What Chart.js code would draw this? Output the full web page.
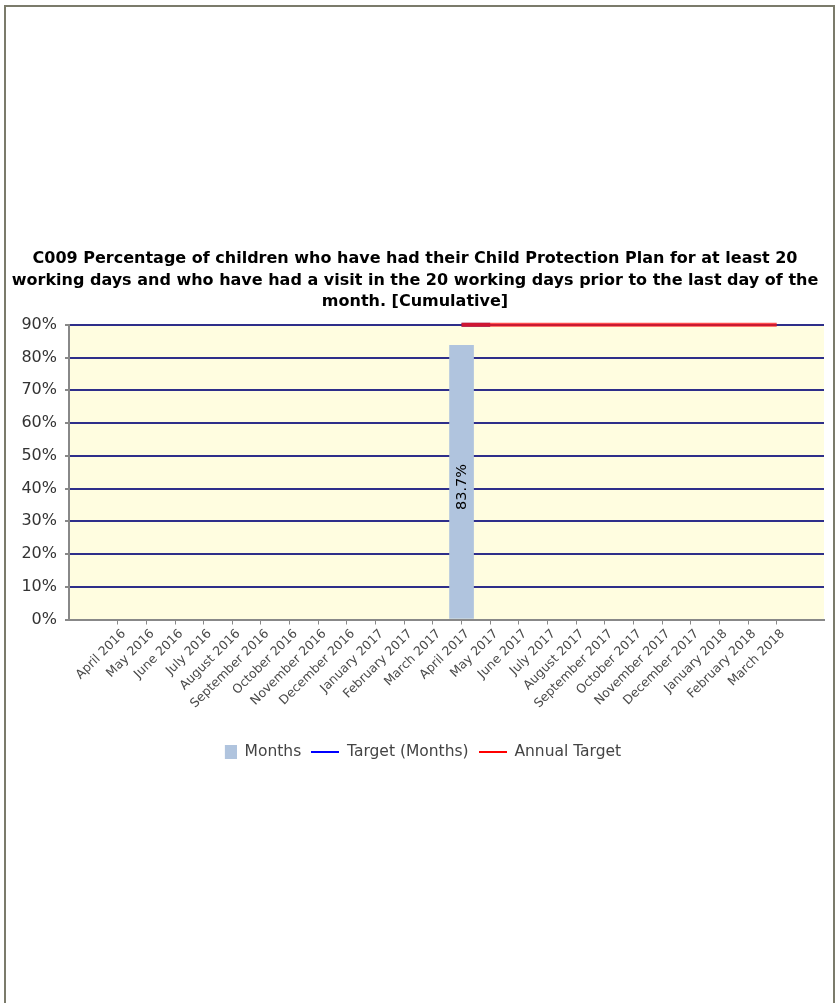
<!DOCTYPE html>
<html>
<head>
<meta charset="utf-8">
<title>C009 chart</title>
<script src="https://cdn.jsdelivr.net/npm/chart.js@4.4.0/dist/chart.umd.min.js"></script>
<style>
    html, body { margin: 0; padding: 0; background: #fff; }
    body { width: 836px; height: 1003px; position: relative; overflow: hidden; }
    .frame {
        position: absolute; left: 4px; top: 5px; width: 827px; height: 1010px;
        border-top: 2px solid #7b7b6b; border-left: 2px solid #7b7b6b; border-right: 2px solid #7b7b6b;
    }
    #wrap { position: absolute; left: 6px; top: 240px; width: 826px; height: 530px; }
</style>
</head>
<body>
<div class="frame"></div>
<div id="wrap"><canvas id="c009Chart"></canvas></div>
<script>
// Chart data
const monthLabels = [
    'April 2016', 'May 2016', 'June 2016', 'July 2016', 'August 2016', 'September 2016',
    'October 2016', 'November 2016', 'December 2016', 'January 2017', 'February 2017', 'March 2017',
    'April 2017', 'May 2017', 'June 2017', 'July 2017', 'August 2017', 'September 2017',
    'October 2017', 'November 2017', 'December 2017', 'January 2018', 'February 2018', 'March 2018'
];
const monthValues = [null, null, null, null, null, null, null, null, null, null, null, null,
    83.7, null, null, null, null, null, null, null, null, null, null, null];
const targetMonths = [null, null, null, null, null, null, null, null, null, null, null, null,
    90, 90, null, null, null, null, null, null, null, null, null, null];
const annualTarget = [null, null, null, null, null, null, null, null, null, null, null, null,
    90, 90, 90, 90, 90, 90, 90, 90, 90, 90, 90, 90];
const yTicks = [0, 10, 20, 30, 40, 50, 60, 70, 80, 90];

const titleLines = [
    'C009 Percentage of children who have had their Child Protection Plan for at least 20',
    'working days and who have had a visit in the 20 working days prior to the last day of the',
    'month. [Cumulative]'
];

const FONT = '"DejaVu Sans", Verdana, sans-serif';

// turn a series into {x, y} points, skipping the empty months
function toPoints(values) {
    return values.map((v, i) => ({ x: i, y: v })).filter(p => p.y !== null);
}

// small canvases used as legend icons
function makeIcon(w, h, color, rx, ry, rw, rh) {
    const c = document.createElement('canvas');
    c.width = w;
    c.height = h;
    const g = c.getContext('2d');
    g.fillStyle = color;
    g.fillRect(rx, ry, rw, rh);
    return c;
}
const legendIcons = [
    makeIcon(28, 14, '#b0c4de', 16, 0, 12, 14),
    makeIcon(28, 2, '#0000ff', 0, 0, 28, 2),
    makeIcon(28, 2, '#ff0000', 0, 0, 28, 2)
];

// light yellow plot background
const plotBackground = {
    id: 'plotBackground',
    beforeDraw(chart) {
        const { ctx, chartArea } = chart;
        ctx.save();
        ctx.fillStyle = '#fffde0';
        ctx.fillRect(chartArea.left, chartArea.top, chartArea.right - chartArea.left, chartArea.bottom - chartArea.top);
        ctx.restore();
    }
};

// rotated value label inside the bar (Months is dataset 2)
const barValueLabels = {
    id: 'barValueLabels',
    afterDatasetsDraw(chart) {
        const { ctx } = chart;
        const meta = chart.getDatasetMeta(2);
        meta.data.forEach((bar, i) => {
            const value = meta._parsed[i].y;
            ctx.save();
            ctx.translate(bar.x + 1, (bar.y + bar.base) / 2 + 5);
            ctx.rotate(-Math.PI / 2);
            ctx.fillStyle = '#000';
            ctx.font = '14.5px ' + FONT;
            ctx.textAlign = 'center';
            ctx.textBaseline = 'middle';
            ctx.fillText(value.toFixed(1) + '%', 0, 0);
            ctx.restore();
        });
    }
};

const ctx = document.getElementById('c009Chart').getContext('2d');

new Chart(ctx, {
    type: 'bar',
    data: {
        datasets: [
            {
                type: 'line',
                label: 'Annual Target',
                data: toPoints(annualTarget),
                borderColor: 'rgba(255, 20, 20, 0.75)',
                borderWidth: 4,
                pointRadius: 0,
                clip: false,
                order: 1
            },
            {
                type: 'line',
                label: 'Target (Months)',
                data: toPoints(targetMonths),
                borderColor: 'rgba(60, 30, 140, 1)',
                borderWidth: 4,
                pointRadius: 0,
                clip: false,
                order: 2
            },
            {
                label: 'Months',
                data: toPoints(monthValues),
                backgroundColor: '#b0c4de',
                barThickness: 24,
                order: 3
            }
        ]
    },
    options: {
        responsive: true,
        maintainAspectRatio: false,
        animation: false,
        layout: { padding: { left: 0, right: 8, top: 0, bottom: 0 } },
        plugins: {
            title: {
                display: true,
                text: titleLines,
                color: '#000',
                font: { family: FONT, size: 16, weight: 'bold', lineHeight: 1.35 },
                padding: { top: 8, bottom: 12 }
            },
            legend: {
                position: 'bottom',
                reverse: true,
                labels: {
                    usePointStyle: true,
                    pointStyleWidth: 28,
                    color: '#444',
                    padding: 10,
                    font: { family: FONT, size: 15.5 },
                    generateLabels(chart) {
                        const items = Chart.defaults.plugins.legend.labels.generateLabels(chart);
                        items.forEach(item => {
                            // dataset 2 = Months, 1 = Target (Months), 0 = Annual Target
                            item.pointStyle = legendIcons[2 - item.datasetIndex];
                        });
                        return items;
                    }
                }
            },
            tooltip: { enabled: false }
        },
        scales: {
            x: {
                type: 'linear',
                bounds: 'data',
                offset: false,
                min: -1.7,
                max: 24.65,
                afterBuildTicks(axis) {
                    axis.ticks = monthLabels.map((_, i) => ({ value: i }));
                },
                afterFit(axis) {
                    axis.height = 115;
                },
                ticks: {
                    autoSkip: false,
                    maxRotation: 45,
                    minRotation: 45,
                    color: '#4a4a4a',
                    padding: 2,
                    labelOffset: 6,
                    font: { family: FONT, size: 12.5 },
                    callback(value) {
                        return monthLabels[value];
                    }
                },
                grid: {
                    offset: false,
                    drawOnChartArea: false,
                    tickColor: '#888',
                    tickLength: 5
                },
                border: { color: '#888', width: 2 }
            },
            y: {
                min: 0,
                max: 90,
                afterBuildTicks(axis) {
                    axis.ticks = yTicks.map(v => ({ value: v }));
                },
                afterFit(axis) {
                    axis.width = 63;
                },
                ticks: {
                    color: '#333',
                    padding: 8,
                    font: { family: FONT, size: 16 },
                    callback(value) {
                        return value + '%';
                    }
                },
                grid: {
                    color: c => (c.tick && c.tick.value === 0 ? 'rgba(0,0,0,0)' : '#2e2e8a'),
                    lineWidth: 2,
                    tickColor: '#888',
                    tickLength: 4
                },
                border: { color: '#888', width: 2 }
            }
        }
    },
    plugins: [plotBackground, barValueLabels]
});
</script>
</body>
</html>
